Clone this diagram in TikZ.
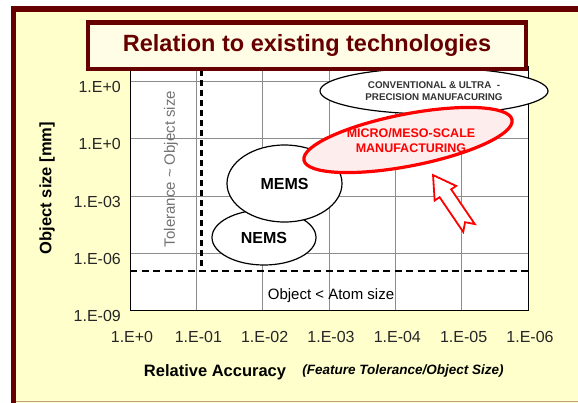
\documentclass[tikz,border=0pt]{standalone}
\usepackage{fontspec}
\setmainfont{Liberation Sans}
\usetikzlibrary{shapes.geometric}

\begin{document}
\begin{tikzpicture}[x=1pt, y=-1pt, every node/.style={inner sep=0pt, font=\fontsize{16}{18}\selectfont},
  gridline/.style={draw=black!45, line width=0.9pt}, blob/.style={ellipse, draw=black, line width=1.2pt, fill=white, inner sep=0pt, font=\bfseries\fontsize{16}{18}\selectfont}]
\definecolor{Frame}{HTML}{660000}\definecolor{Backdrop}{HTML}{FFFFCC}\definecolor{TitleFill}{HTML}{FFFDE6}\definecolor{Hot}{HTML}{FF0000}\definecolor{HotFill}{HTML}{FDEDED}\definecolor{Rim}{HTML}{C0A080}
\useasboundingbox (0,0) rectangle (578,402);
\fill[Backdrop] (13.5,9) rectangle (600,420); \draw[Frame, line width=5.5pt] (13.5,9) rectangle (600,420); \draw[Rim, line width=1pt] (16,401) -- (578,401);
\fill[white] (130,66) rectangle (528,310);
\foreach \y in {81,138,196,253} \draw[gridline] (130,\y) -- (528,\y);
\foreach \x in {196.3,262.7,329,395.3,461.7} \draw[gridline] (\x,66) -- (\x,310);
\draw[line width=1pt] (130,66) -- (130,310) -- (528,310) -- (528,66);
\draw[line width=2.4pt, dash pattern=on 6pt off 4pt] (201.5,70) -- (201.5,271);
\draw[line width=1.1pt, dash pattern=on 7pt off 4.5pt] (130,271) -- (528,271);
\foreach \lab [count=\i] in {1.E+0,1.E-01,1.E-02,1.E-03,1.E-04,1.E-05,1.E-06} \node[text=black!85] (xt\i) at ({130+66.33*(\i-1)+2},337) {\lab};
\foreach \lab/\y [count=\i] in {1.E+0/81,1.E+0/138,1.E-03/196,1.E-06/253,1.E-09/310} \node[anchor=east, text=black!85] (yt\i) at (121,\y+5.5) {\lab};
\node[rotate=90, text=black!55, font=\fontsize{15}{17}\selectfont] (tol) at (171,169) {Tolerance \textasciitilde{} Object size};
\node[font=\fontsize{15}{17}\selectfont] (atom) at (331,296) {Object < Atom size};
\node[rotate=90, font=\bfseries\fontsize{16.5}{19}\selectfont] (ylab) at (47,188) {Object size [mm]};
\node[font=\bfseries\fontsize{16.5}{19}\selectfont] (xlab) at (215,372) {Relative Accuracy};
\node[font=\bfseries\itshape\fontsize{13.5}{16}\selectfont] (xnote) at (403,371) {(Feature Tolerance/Object Size)};
\node[blob, minimum width=104pt, minimum height=55pt] (nems) at (264,237.5) {NEMS};
\node[blob, minimum width=115pt, minimum height=77pt] (mems) at (284.5,183.5) {MEMS};
\node[blob, minimum width=228pt, minimum height=46pt, text=black!80, align=center, font=\bfseries\fontsize{9.8}{12}\selectfont] (conv) at (434,91) {CONVENTIONAL \& ULTRA\ \ -\\PRECISION MANUFACURING};
\draw[Hot, fill=HotFill, line width=3.2pt, rotate around={11:(408,140)}] (408,140) ellipse [x radius=106, y radius=26];
\node[text=Hot, align=center, font=\bfseries\fontsize{12.5}{15}\selectfont] (micro) at (411,140.5) {MICRO/MESO-SCALE\\MANUFACTURING};
\begin{scope}[shift={(469,228)}, rotate=124.2]
\draw[Hot, fill=white, line width=1.8pt, line join=miter] (64,0) -- (42,13) -- (42,7) -- (0,7) -- (7,0) -- (0,-7) -- (42,-7) -- (42,-13) -- cycle;
\end{scope}
\node[draw=Frame, line width=4.5pt, fill=TitleFill, minimum width=438pt, minimum height=46.5pt, text=Frame, font=\bfseries\fontsize{23.5}{27}\selectfont] (title) at (307,45.75) {Relation to existing technologies};
\end{tikzpicture}
\end{document}
